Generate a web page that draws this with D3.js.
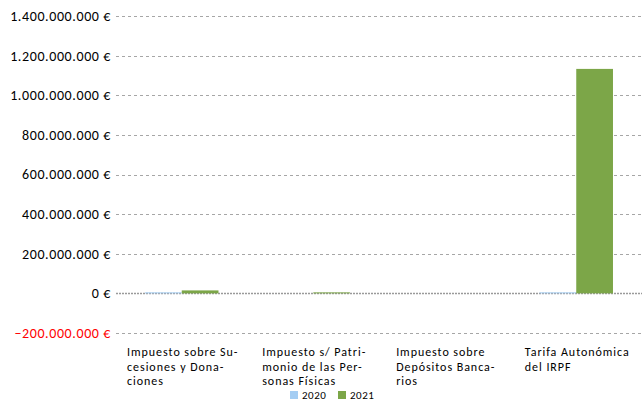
<!DOCTYPE html>
<html>
<head>
<meta charset="utf-8">
<script src="https://cdn.jsdelivr.net/npm/d3@7"></script>
<style>
    body { margin: 0; background: #fff; }
    svg text { font-family: Carlito, 'Liberation Sans', sans-serif; }
</style>
</head>
<body>
<div id="chart"></div>
<script>
// Chart data
const categories = [
    ['Impuesto sobre Su-', 'cesiones y Dona-', 'ciones'],
    ['Impuesto s/ Patri-', 'monio de las Per-', 'sonas Físicas'],
    ['Impuesto sobre', 'Depósitos Banca-', 'rios'],
    ['Tarifa Autonómica', 'del IRPF']
];
const seriesNames = ['2020', '2021'];
const values2020 = [5000000, 0, 0, 5000000];
const values2021 = [15000000, 5000000, 0, 1133000000];
const yTicks = [-200000000, 0, 200000000, 400000000, 600000000, 800000000, 1000000000, 1200000000, 1400000000];
const colors = ['#a4cdf3', '#7ca648'];

const width = 642, height = 402;
const margin = { top: 16, right: 0, bottom: 69, left: 116 };

const svg = d3.select('#chart').append('svg')
    .attr('width', width)
    .attr('height', height);

const x = d3.scaleBand()
    .domain(d3.range(categories.length))
    .range([margin.left, width - margin.right]);
const xInner = d3.scaleBand()
    .domain(seriesNames)
    .range([0, x.bandwidth()])
    .paddingOuter(0.79);
const y = d3.scaleLinear()
    .domain([-200000000, 1400000000])
    .range([height - margin.bottom, margin.top]);

const fmt = v => d3.format(',')(v).replace(/,/g, '.') + ' €';

// Gridlines
svg.append('g')
    .selectAll('line')
    .data(yTicks)
    .enter().append('line')
    .attr('x1', margin.left)
    .attr('x2', width - margin.right)
    .attr('y1', d => Math.round(y(d)) + 0.5)
    .attr('y2', d => Math.round(y(d)) + 0.5)
    .attr('stroke', d => d === 0 ? '#9a9a9a' : '#a6a6a6')
    .attr('stroke-width', d => d === 0 ? 1.5 : 1)
    .attr('stroke-dasharray', d => d === 0 ? '2,1' : '3,3');

// Y axis labels
svg.append('g')
    .selectAll('text')
    .data(yTicks)
    .enter().append('text')
    .attr('x', 111)
    .attr('y', d => y(d))
    .attr('dy', '0.35em')
    .attr('text-anchor', 'end')
    .attr('font-size', 14)
    .attr('letter-spacing', 0.6)
    .attr('fill', d => d < 0 ? '#ff0000' : '#000')
    .text(fmt);

// Bars
const series = [values2020, values2021];
series.forEach((vals, si) => {
    svg.append('g')
        .selectAll('rect')
        .data(vals)
        .enter().append('rect')
        .attr('x', (d, i) => x(i) + xInner(seriesNames[si]))
        .attr('y', d => y(Math.max(d, 0)))
        .attr('width', xInner.bandwidth())
        .attr('height', d => Math.abs(y(d) - y(0)))
        .attr('fill', colors[si]);
});

// Category labels: left-aligned lines, block centred under the band
const catG = svg.append('g')
    .selectAll('text')
    .data(categories)
    .enter().append('text')
    .attr('y', 356)
    .attr('font-size', 12)
    .attr('letter-spacing', 0.95);
catG.selectAll('tspan')
    .data(d => d)
    .enter().append('tspan')
    .attr('dy', (d, i) => i === 0 ? 0 : 14.7)
    .text(d => d);
catG.each(function(d, i) {
    const spans = d3.select(this).selectAll('tspan');
    const maxW = d3.max(spans.nodes(), n => n.getComputedTextLength());
    const left = x(i) + x.bandwidth() / 2 + 1 - maxW / 2;
    spans.attr('x', left);
});

// Legend
const legend = svg.append('g');
const legendX = [290, 338];
seriesNames.forEach((name, i) => {
    legend.append('rect')
        .attr('x', legendX[i])
        .attr('y', 391)
        .attr('width', 8)
        .attr('height', 8)
        .attr('fill', colors[i]);
    legend.append('text')
        .attr('x', legendX[i] + 12)
        .attr('y', 399)
        .attr('font-size', 11)
        .attr('letter-spacing', 0.5)
        .text(name);
});
</script>
</body>
</html>
